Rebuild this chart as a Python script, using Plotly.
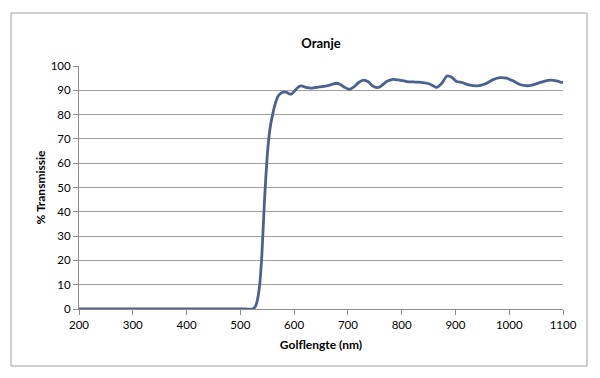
import plotly.graph_objects as go

wavelength = [200, 300, 400, 480, 510, 522, 528, 532, 536, 540, 545, 550, 555, 560, 565, 570, 575,
              580, 586, 591, 596, 602, 608, 614, 622, 632, 645, 660, 670, 678, 686, 694,
              702, 710, 720, 729, 738, 746, 754, 762, 772, 784, 796, 809, 825, 840, 852,
              865, 875, 884, 893, 902, 912, 925, 940, 955, 970, 983, 995, 1008, 1020, 1030,
              1042, 1055, 1066, 1076, 1088, 1100]
transmission = [0, 0, 0, 0, 0, 0, 1, 4, 10, 22, 45, 63, 74, 80, 84.5, 87.5, 88.7,
                89.2, 89.2, 88.5, 88.6, 90, 91.4, 91.8, 91.2, 90.9, 91.3, 91.8, 92.4, 92.9, 92.4, 91.2,
                90.4, 91.2, 93.2, 94.2, 93.5, 91.8, 91.1, 91.8, 93.6, 94.5, 94.2, 93.6, 93.4, 93.2, 92.6,
                91.2, 93.0, 95.9, 95.4, 93.6, 93.2, 92.2, 91.8, 92.6, 94.4, 95.2, 95.0, 93.8, 92.4, 91.9,
                92.1, 93.0, 93.8, 94.2, 93.9, 93.1]

x_ticks = [200, 300, 400, 500, 600, 700, 800, 900, 1000, 1100]
y_ticks = [0, 10, 20, 30, 40, 50, 60, 70, 80, 90, 100]

W, H = 592, 370  # page body has an 8px margin
fig = go.Figure()
fig.add_trace(go.Scatter(
    x=wavelength, y=transmission, mode="lines",
    line=dict(color="#4a6290", width=2.8, shape="spline", smoothing=0.5),
    hoverinfo="skip", showlegend=False,
))

fig.update_layout(
    width=W, height=H,
    margin=dict(l=71, r=37, t=58, b=69),
    paper_bgcolor="white", plot_bgcolor="white",
    font=dict(family="Lato, Open Sans, sans-serif", size=11, color="#000"),
    title=dict(text="<b>Oranje</b>", x=313 / W, xanchor="center",
               y=1 - 35 / H, yanchor="middle", font=dict(size=13)),
    xaxis=dict(range=[200, 1100], tickvals=x_ticks, ticktext=[str(v) for v in x_ticks],
               showgrid=False, zeroline=False, showline=True, linecolor="#8c8c8c", linewidth=1,
               ticks="outside", ticklen=5, tickcolor="#8c8c8c",
               title=dict(text="<b>Golflengte (nm)</b>", font=dict(size=12), standoff=10),
               tickfont=dict(size=11.5)),
    yaxis=dict(range=[0, 100], tickvals=y_ticks,
               showgrid=True, gridcolor="#a0a0a0", gridwidth=1, zeroline=False,
               showline=True, linecolor="#8c8c8c", linewidth=1,
               ticks="outside", ticklen=5, tickcolor="#8c8c8c",
               title=dict(text="<b>% Transmissie</b>", font=dict(size=12), standoff=2),
               tickfont=dict(size=11.5)),
)

fig.add_shape(type="rect", xref="paper", yref="paper",
              x0=(11 - 79) / 484, x1=(587 - 79) / 484,
              y0=(309 - 366) / 243, y1=(309 - 13) / 243,
              line=dict(color="#a0a0a0", width=1), layer="below")

fig.write_html("out.html")
